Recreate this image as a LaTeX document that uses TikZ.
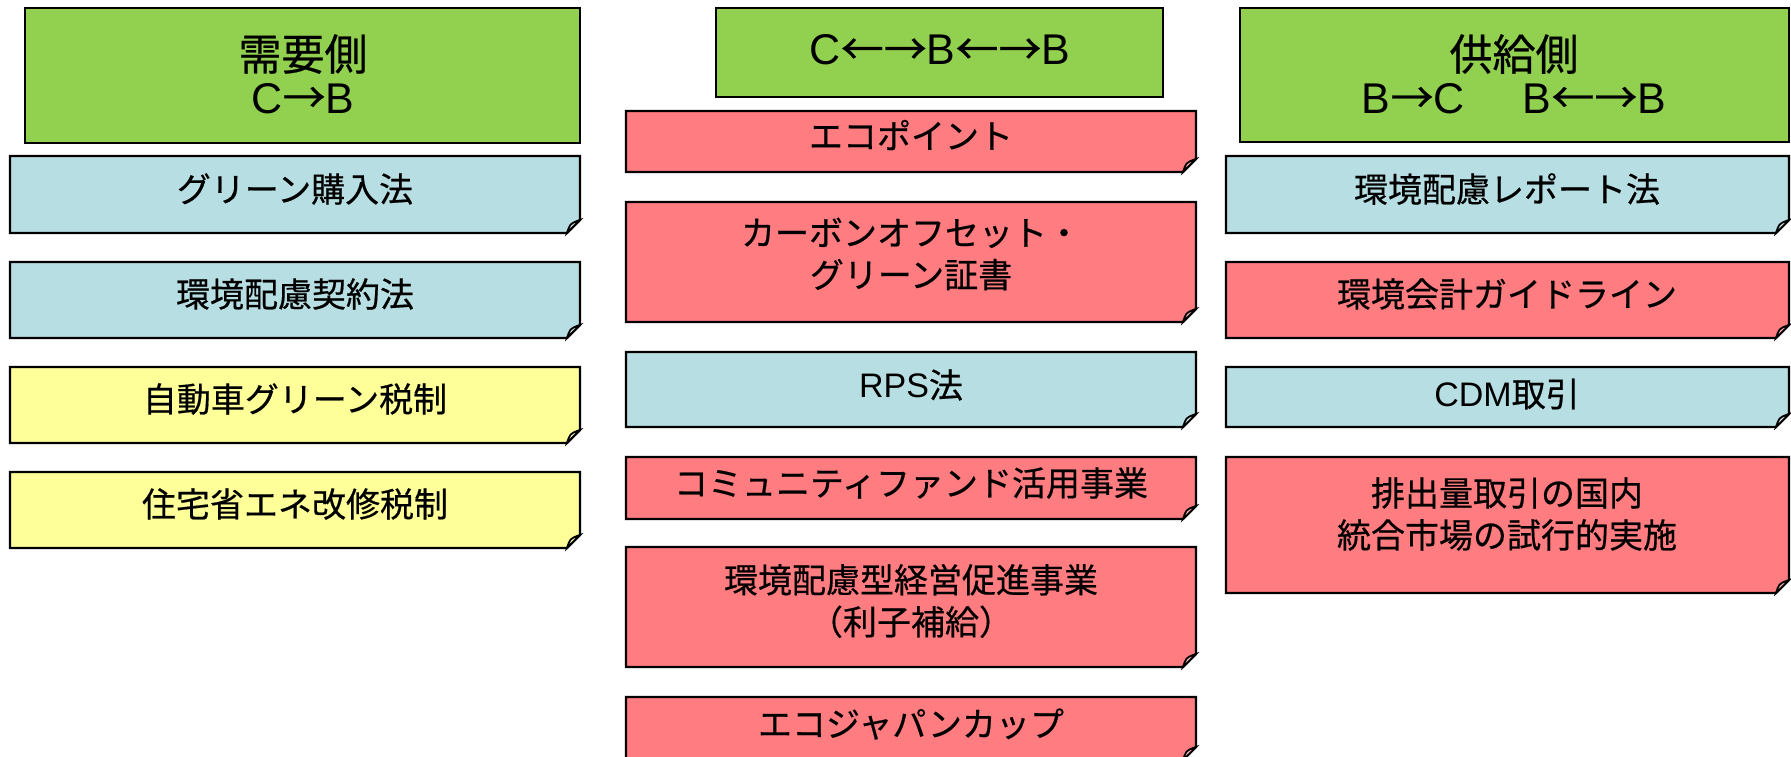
\documentclass[tikz,border=0pt]{standalone}
\usepackage{fontspec}
\setmainfont{Liberation Sans}
\newfontfamily\jp[FakeBold=0.5]{Noto Sans CJK JP}
\definecolor{hdrgreen}{RGB}{146,208,80}
\definecolor{memoblue}{RGB}{183,222,226}
\definecolor{memoyellow}{RGB}{255,255,153}
\definecolor{memored}{RGB}{255,124,128}
\newcommand\lat[1]{{\rmfamily #1}}
\newcommand\memo[5]{% x1 y1 x2 y2 color
 \draw[memoline,fill=#5] (#1,#2) -- (#3,#2) -- (#3,{#4-13}) -- ({#3-13},#4) -- (#1,#4) -- cycle;
 \draw[memoline,line width=1.8pt,fill=#5!55!white] ({#3-13},#4) .. controls ({#3-10},{#4-9}) .. ({#3-3},{#4-12}) -- (#3,{#4-13}) -- cycle;
}
\tikzset{
 memoline/.style={draw=black,line width=2.3pt,line join=miter},
 hdrbox/.style={draw=black,line width=2.3pt,fill=hdrgreen},
 txt/.style={inner sep=0pt,align=center,text=black,font=\jp\fontsize{34}{42}\selectfont},
 hdrtxt/.style={inner sep=0pt,align=center,text=black,font=\jp\fontsize{43}{43}\selectfont},
}
\begin{document}
\begin{tikzpicture}[x=1pt,y=-1pt]
\useasboundingbox (0,0) rectangle (1791,756);
% headers
\draw[hdrbox] (25,8) rectangle (580,143);
\node[hdrtxt] (h1) at (303,74) {需要側\\\lat{C}→\lat{B}};
\draw[hdrbox] (716,8) rectangle (1163,97);
\node[hdrtxt] (h2) at (940,50) {\lat{C}←→\lat{B}←→\lat{B}};
\draw[hdrbox] (1240,8) rectangle (1789,142);
\node[hdrtxt] (h3) at (1514,74) {供給側\\\lat{B}→\lat{C}\hspace{1.35em}\lat{B}←→\lat{B}};
% left column
\memo{10}{156}{580}{233}{memoblue}
\node[txt] (l1) at (295,189) {グリーン購入法};
\memo{10}{262}{580}{338}{memoblue}
\node[txt] (l2) at (295,294) {環境配慮契約法};
\memo{10}{367}{580}{443}{memoyellow}
\node[txt] (l3) at (295,399) {自動車グリーン税制};
\memo{10}{472}{580}{548}{memoyellow}
\node[txt] (l4) at (295,504) {住宅省エネ改修税制};
% middle column
\memo{626}{111}{1196}{172}{memored}
\node[txt] (m1) at (911,135) {エコポイント};
\memo{626}{202}{1196}{322}{memored}
\node[txt] (m2) at (911,254) {カーボンオフセット・\\グリーン証書};
\memo{626}{352}{1196}{427}{memoblue}
\node[txt] (m3) at (911,385) {\lat{RPS}法};
\memo{626}{457}{1196}{519}{memored}
\node[txt] (m4) at (911,483) {コミュニティファンド活用事業};
\memo{626}{547}{1196}{667}{memored}
\node[txt] (m5) at (911,601) {環境配慮型経営促進事業\\（利子補給）};
\memo{626}{697}{1196}{760}{memored}
\node[txt] (m6) at (911,724) {エコジャパンカップ};
% right column
\memo{1226}{156}{1789}{233}{memoblue}
\node[txt] (r1) at (1507,189) {環境配慮レポート法};
\memo{1226}{262}{1789}{338}{memored}
\node[txt] (r2) at (1507,294) {環境会計ガイドライン};
\memo{1226}{367}{1789}{427}{memoblue}
\node[txt] (r3) at (1507,394) {\lat{CDM}取引};
\memo{1226}{457}{1789}{593}{memored}
\node[txt] (r4) at (1507,514) {排出量取引の国内\\統合市場の試行的実施};
\end{tikzpicture}
\end{document}
